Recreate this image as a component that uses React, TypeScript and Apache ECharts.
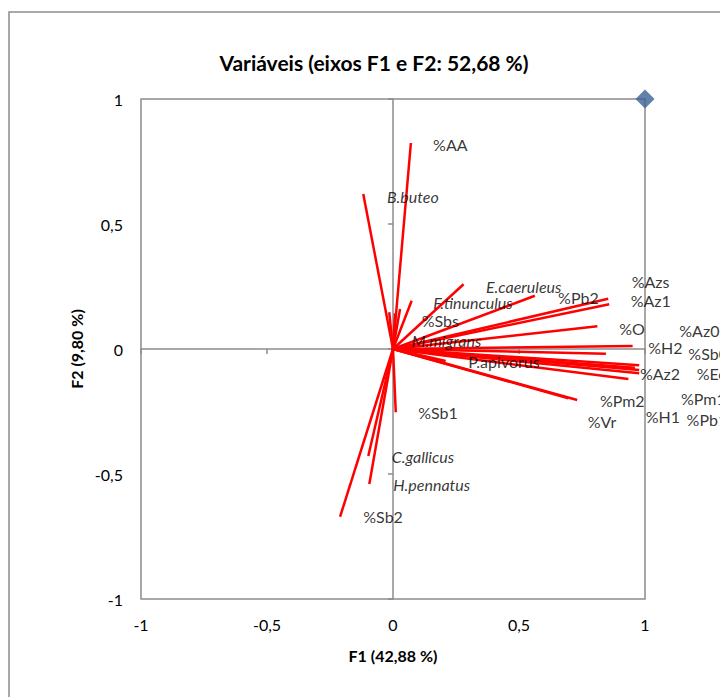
import React, { useEffect, useRef } from "react";
import * as echarts from "echarts";

// Vector end points (F1, F2)
const vectorX = [0.071, -0.118, 0.28, 0.563, 0.854, 0.858, 0.811, 0.951, 0.845, 0.977, 0.977, 0.977, 0.934, 0.731, 0.696, 0.209, 0.074, 0.028, -0.015, 0.008, 0.011, -0.21, -0.094, -0.098, 0.96];
const vectorY = [0.824, 0.62, 0.259, 0.213, 0.201, 0.179, 0.091, 0.012, -0.019, -0.065, -0.084, -0.097, -0.12, -0.204, -0.197, -0.048, 0.193, 0.16, 0.147, 0.143, -0.253, -0.671, -0.54, -0.428, -0.075];

// Label names and their positions (left edge x, centre y) in data units
const labelNames = ["%AA", "B.buteo", "E.caeruleus", "%Pb2", "%Azs", "%Az1", "F.tinunculus", "%Sbs", "%O", "%Az0", "M.migrans", "%H2", "%Sb0", "P.apivorus", "%Az2", "%Ec", "%Pm2", "%Pm1", "%H1", "%Pb1", "%Vr", "%Sb1", "C.gallicus", "H.pennatus", "%Sb2"];
const labelX = [0.159, -0.024, 0.369, 0.655, 0.947, 0.943, 0.16, 0.114, 0.898, 1.136, 0.074, 1.013, 1.172, 0.299, 0.98, 1.205, 0.821, 1.143, 1.003, 1.165, 0.773, 0.1, -0.005, 0.001, -0.118];
const labelY = [0.82, 0.612, 0.249, 0.207, 0.269, 0.193, 0.185, 0.116, 0.084, 0.073, 0.036, 0.007, -0.017, -0.051, -0.097, -0.097, -0.207, -0.197, -0.271, -0.28, -0.288, -0.255, -0.431, -0.541, -0.671];
const italicNames = ["B.buteo", "E.caeruleus", "F.tinunculus", "M.migrans", "C.gallicus", "H.pennatus"];

const markerPoint = [1, 1];

const axisTicks = [-1, -0.5, 0, 0.5, 1];

const FONT = "Lato, 'Open Sans', sans-serif";
const GRAY = "#8c8c8c";

const fmt = (v: number) => String(v).replace(".", ",");

export default function App() {
  const ref = useRef<HTMLDivElement>(null);
  useEffect(() => {
    if (!ref.current) return;
    const chart = echarts.init(ref.current, undefined, { renderer: "svg" });
    const tickMin = axisTicks[0];
    const tickMax = axisTicks[axisTicks.length - 1];
    const tickInt = axisTicks[1] - axisTicks[0];
    const labelAxisCommon = {
      type: "value",
      min: tickMin,
      max: tickMax,
      interval: tickInt,
      axisLine: { show: false, onZero: false },
      axisTick: { show: false },
      splitLine: { show: false },
    };
    const zeroAxisCommon = {
      type: "value",
      min: tickMin,
      max: tickMax,
      interval: tickInt,
      axisLine: { show: true, onZero: true, lineStyle: { color: GRAY, width: 1.5 } },
      axisTick: { show: true, length: 5, lineStyle: { color: GRAY, width: 1.5 } },
      axisLabel: { show: false },
      splitLine: { show: false },
    };
    chart.setOption({
      animation: false,
      grid: {
        show: true,
        left: 133,
        top: 91,
        width: 504,
        height: 500,
        borderColor: GRAY,
        borderWidth: 1.5,
        backgroundColor: "transparent",
      },
      xAxis: [
        {
          ...labelAxisCommon,
          position: "bottom",
          axisLabel: { formatter: fmt, margin: 17, fontSize: 16, color: "#000", fontFamily: FONT },
        },
        { ...zeroAxisCommon, position: "bottom" },
      ],
      yAxis: [
        {
          ...labelAxisCommon,
          position: "left",
          axisLabel: { formatter: fmt, margin: 18, fontSize: 16, color: "#000", fontFamily: FONT },
        },
        { ...zeroAxisCommon, position: "left" },
      ],
      graphic: [
        {
          type: "rect",
          shape: { x: 1, y: 4, width: 800, height: 800 },
          style: { fill: "none", stroke: GRAY, lineWidth: 1.5 },
          silent: true,
          z: -1,
        },
        {
          type: "text",
          x: 366,
          y: 54,
          style: {
            text: "Variáveis (eixos F1 e F2: 52,68 %)",
            font: `bold 21px ${FONT}`,
            fill: "#000",
            align: "center",
            verticalAlign: "middle",
          },
        },
        {
          type: "text",
          x: 385,
          y: 647,
          style: {
            text: "F1 (42,88 %)",
            font: `bold 16px ${FONT}`,
            fill: "#000",
            align: "center",
            verticalAlign: "middle",
          },
        },
        {
          type: "text",
          x: 68,
          y: 341,
          rotation: Math.PI / 2,
          style: {
            text: "F2 (9,80 %)",
            font: `bold 16px ${FONT}`,
            fill: "#000",
            align: "center",
            verticalAlign: "middle",
          },
        },
      ],
      series: [
        {
          type: "lines",
          coordinateSystem: "cartesian2d",
          xAxisIndex: 0,
          yAxisIndex: 0,
          polyline: false,
          silent: true,
          lineStyle: { color: "#ff0000", width: 2.5, opacity: 1 },
          data: vectorX.map((x, i) => ({ coords: [[0, 0], [x, vectorY[i]]] })),
        },
        {
          type: "scatter",
          xAxisIndex: 0,
          yAxisIndex: 0,
          clip: false,
          symbolSize: 0,
          silent: true,
          data: labelNames.map((n, i) => ({
            name: n,
            value: [labelX[i], labelY[i]],
            label: {
              show: true,
              position: "inside",
              align: "left",
              verticalAlign: "middle",
              formatter: n,
              fontSize: 16,
              fontFamily: FONT,
              color: "#000",
              fontStyle: italicNames.includes(n) ? "italic" : "normal",
            },
          })),
        },
        {
          type: "scatter",
          xAxisIndex: 0,
          yAxisIndex: 0,
          clip: false,
          symbol: "diamond",
          symbolSize: [19, 19],
          itemStyle: { color: "#3a6095" },
          data: [markerPoint],
        },
      ],
    });
    return () => chart.dispose();
  }, []);
  return <div ref={ref} style={{ width: 720, height: 689 }} />;
}
